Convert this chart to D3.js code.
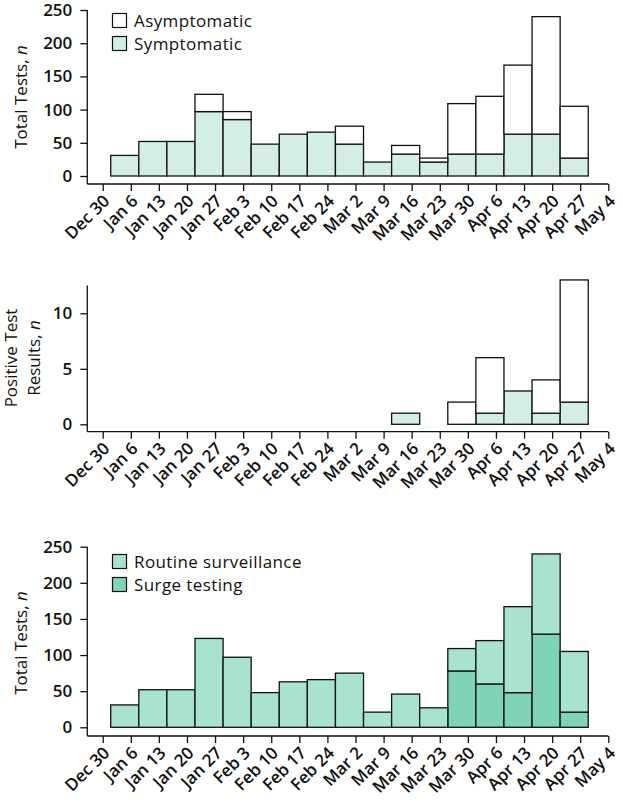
<!DOCTYPE html>
<html>
<head>
	<meta charset="utf-8">
	<script src="https://d3js.org/d3.v7.min.js"></script>
	<style>
		body { margin: 0; background: white; }
		svg text { font-family: "Open Sans", "Noto Sans", sans-serif; fill: #111; }
		.xlab, .tick text { font-weight: 600; }
	</style>
</head>
<body>
	<svg width="623" height="802"></svg>
	<script>
		// weekly bins, start dates
		let weekStarts = [
		"2020-01-01", "2020-01-08", "2020-01-15", "2020-01-22", "2020-01-29",
		"2020-02-05", "2020-02-12", "2020-02-19", "2020-02-26", "2020-03-04",
		"2020-03-11", "2020-03-18", "2020-03-25", "2020-04-01", "2020-04-08",
		"2020-04-15", "2020-04-22"
		];

		let tickLabels = [
		"Dec 30", "Jan 6", "Jan 13", "Jan 20", "Jan 27", "Feb 3", "Feb 10",
		"Feb 17", "Feb 24", "Mar 2", "Mar 9", "Mar 16", "Mar 23", "Mar 30",
		"Apr 6", "Apr 13", "Apr 20", "Apr 27", "May 4"
		];

		// panel 1: total tests
		let symptomatic  = [31, 52, 52, 97, 85, 48, 63, 66, 48, 21, 33, 21, 33, 33, 63, 63, 27];
		let asymptomatic = [0, 0, 0, 26, 12, 0, 0, 0, 27, 0, 13, 6, 76, 87, 104, 177, 78];

		// panel 2: positive results
		let posSymptomatic  = [0, 0, 0, 0, 0, 0, 0, 0, 0, 0, 1, 0, 0, 1, 3, 1, 2];
		let posAsymptomatic = [0, 0, 0, 0, 0, 0, 0, 0, 0, 0, 0, 0, 2, 5, 0, 3, 11];

		// panel 3: total tests by reason
		let surge   = [0, 0, 0, 0, 0, 0, 0, 0, 0, 0, 0, 0, 78, 60, 48, 129, 21];
		let routine = [31, 52, 52, 123, 97, 48, 63, 66, 75, 21, 46, 27, 31, 60, 119, 111, 84];

		const svg = d3.select("svg");
		const parseTick = d3.utcParse("%b %d %Y");
		const tickDates = tickLabels.map((t, i) => parseTick(t + (i === 0 ? " 2019" : " 2020")));
		const binStarts = weekStarts.map(d => d3.utcParse("%Y-%m-%d")(d));

		const x = d3.scaleUtc()
		.domain([tickDates[0], tickDates[tickDates.length - 1]])
		.range([102.7, 608.3]);
		const axisLeftX = 87.3;

		const mint = "#d3efe5", routineCol = "#a7e3cd", surgeCol = "#7fd3b6";

		function panel(opts) {
		const g = svg.append("g");
		const y = d3.scaleLinear().domain(opts.domain).range(opts.range);

		// stacked bars
		opts.series.forEach((s, si) => {
		const rows = binStarts.map((d, i) => {
		let base = 0;
		for (let k = 0; k < si; k++) base += opts.series[k].values[i];
		return { start: d, base: base, v: s.values[i] };
		}).filter(r => r.v > 0);

		g.selectAll(null)
		.data(rows)
		.enter().append("rect")
		.attr("x", d => x(d.start))
		.attr("width", d => x(d3.utcDay.offset(d.start, 7)) - x(d.start))
		.attr("y", d => y(d.base + d.v))
		.attr("height", d => y(d.base) - y(d.base + d.v))
		.attr("fill", s.color)
		.attr("stroke", "#111")
		.attr("stroke-width", 1.3);
		});

		// x axis
		const xa = g.append("g")
		.attr("transform", `translate(0,${opts.axisY})`)
		.call(d3.axisBottom(x).tickValues(tickDates).tickSize(7).tickSizeOuter(0).tickFormat(""));
		xa.select(".domain").remove();
		xa.selectAll(".tick line").attr("stroke", "#111").attr("stroke-width", 1.3);
		g.append("line")
		.attr("x1", axisLeftX).attr("x2", x.range()[1])
		.attr("y1", opts.axisY).attr("y2", opts.axisY)
		.attr("stroke", "#111").attr("stroke-width", 1.3);

		g.selectAll(".xlab")
		.data(tickDates)
		.enter().append("text")
		.attr("class", "xlab")
		.attr("text-anchor", "end")
		.attr("font-size", 17)
		.attr("transform", (d) => `translate(${x(d) + 8},${opts.axisY + 18}) rotate(-45)`)
		.text((d, i) => tickLabels[i]);

		// y axis
		const ya = g.append("g")
		.attr("transform", `translate(${axisLeftX},0)`)
		.call(d3.axisLeft(y).tickValues(opts.ticks).tickSize(7).tickPadding(8));
		ya.select(".domain").remove();
		ya.selectAll(".tick line").attr("stroke", "#111").attr("stroke-width", 1.3);
		ya.selectAll(".tick text").attr("font-size", 17).style("font-family", "'Open Sans', sans-serif").attr("fill", "#111");
		g.append("line")
		.attr("x1", axisLeftX).attr("x2", axisLeftX)
		.attr("y1", y(opts.domain[1])).attr("y2", opts.axisY)
		.attr("stroke", "#111").attr("stroke-width", 1.3);

		// y title
		const cy = opts.titleY;
		opts.title.forEach((line, li) => {
		const t = g.append("text")
		.attr("transform", `translate(${opts.titleX[li]},${cy}) rotate(-90)`)
		.attr("text-anchor", "middle")
		.attr("font-size", 17);
		t.append("tspan").text(line[0]);
		if (line[1]) t.append("tspan").attr("font-style", "italic").text(line[1]);
		});

		// legend
		if (opts.legend) {
		opts.legend.forEach((l, li) => {
		const ly = opts.legendY + li * 23;
		g.append("rect")
		.attr("x", 112.5).attr("y", ly)
		.attr("width", 14).attr("height", 14)
		.attr("fill", l.color).attr("stroke", "#111").attr("stroke-width", 1.2);
		g.append("text")
		.attr("x", 134).attr("y", ly + 13)
		.attr("font-size", 17)
		.style("letter-spacing", "0.4px")
		.text(l.label);
		});
		}
		}

		panel({
		domain: [0, 250], range: [176, 10], axisY: 184,
		ticks: [0, 50, 100, 150, 200, 250],
		series: [
		{ values: symptomatic, color: mint },
		{ values: asymptomatic, color: "white" }
		],
		title: [["Total Tests, ", "n"]], titleX: [27], titleY: 97,
		legend: [
		{ label: "Asymptomatic", color: "white" },
		{ label: "Symptomatic", color: mint }
		],
		legendY: 13.5
		});

		panel({
		domain: [0, 12.5], range: [424.3, 285.5], axisY: 431.7,
		ticks: [0, 5, 10],
		series: [
		{ values: posSymptomatic, color: mint },
		{ values: posAsymptomatic, color: "white" }
		],
		title: [["Positive Test"], ["Results, ", "n"]], titleX: [17, 40], titleY: 358
		});

		panel({
		domain: [0, 250], range: [727.3, 546.7], axisY: 736,
		ticks: [0, 50, 100, 150, 200, 250],
		series: [
		{ values: surge, color: surgeCol },
		{ values: routine, color: routineCol }
		],
		title: [["Total Tests, ", "n"]], titleX: [27], titleY: 643,
		legend: [
		{ label: "Routine surveillance", color: routineCol },
		{ label: "Surge testing", color: surgeCol }
		],
		legendY: 554.5
		});
	</script>
</body>
</html>
